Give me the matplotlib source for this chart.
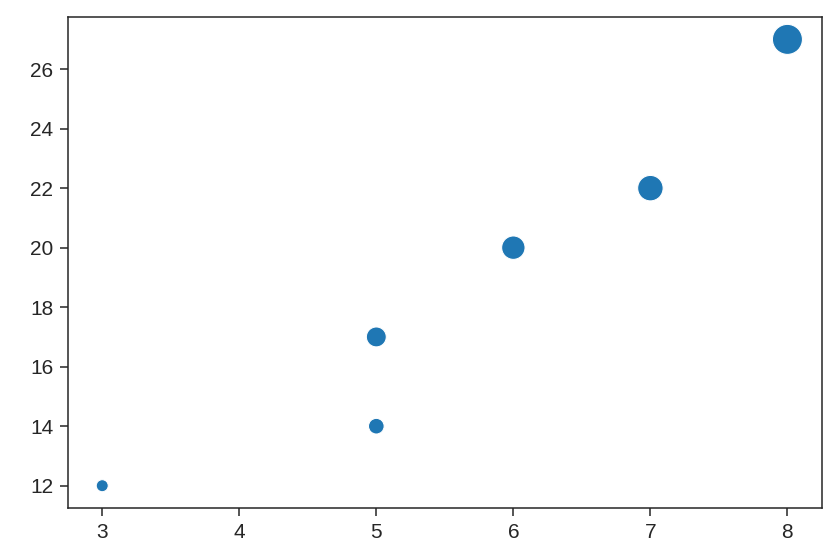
import numpy as np
import matplotlib.pyplot as plt

plt.rcParams['font.family'] = ['Liberation Sans', 'DejaVu Sans']

x = np.array([3, 5, 5, 6, 7, 8])
y = np.array([12, 14, 17, 20, 22, 27])

# marker area grows with y, like seaborn's size= mapping
smin, smax = 75, 467
sizes = smin + (y - y.min()) / (y.max() - y.min()) * (smax - smin)

fig = plt.figure(figsize=(8.31, 5.56), dpi=100)
ax = fig.add_axes([0.0818, 0.0863, 0.907, 0.883])
ax.scatter(x, y, s=sizes, color='#1f77b4', edgecolor='white', linewidth=0.75)
ax.set_xticks([3, 4, 5, 6, 7, 8])
ax.set_yticks([12, 14, 16, 18, 20, 22, 24, 26])
ax.tick_params(labelsize=15, length=5.5, width=1.1, pad=5, colors='#262626')
for sp in ax.spines.values():
    sp.set_linewidth(1.1)
    sp.set_color('#262626')
fig.savefig('out.png')
